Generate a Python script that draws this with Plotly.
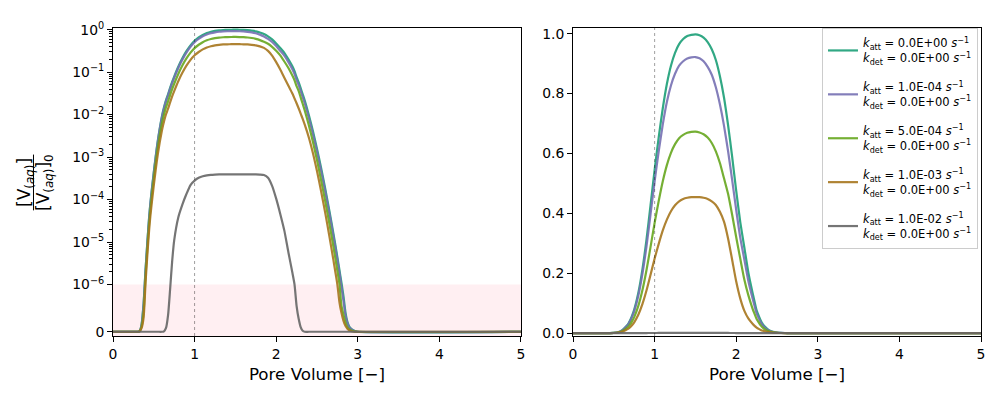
import math
import plotly.graph_objects as go

# ---------------- data ----------------
pore_volume = [0, 0.30, 0.325, 0.35, 0.375, 0.40, 0.45, 0.50, 0.55, 0.60, 0.625, 0.65, 0.675, 0.70,
               0.725, 0.75, 0.80, 0.85, 0.90, 0.95, 1.00, 1.05, 1.10, 1.15, 1.20, 1.25, 1.30, 1.35,
               1.40, 1.45, 1.50, 1.55, 1.60, 1.65, 1.70, 1.75, 1.80, 1.85, 1.90, 1.95, 2.00, 2.05,
               2.10, 2.15, 2.20, 2.225, 2.25, 2.275, 2.30, 2.325, 2.35, 2.40, 2.45, 2.50, 2.55,
               2.60, 2.65, 2.70, 2.75, 2.775, 2.80, 2.825, 2.85, 2.875, 2.90, 2.95, 3.00, 5.00]

conc_katt_0 = [0, 0, 1e-8, 1.5e-7, 6e-7, 2.4e-6, 5.6e-5, 4.4e-4, 2.5e-3, 9.2e-3, 0.0148, 0.022, 0.030, 0.0426,
               0.059, 0.0787, 0.134, 0.212, 0.311, 0.427, 0.545, 0.654, 0.751, 0.832, 0.893, 0.936, 0.965, 0.982,
               0.992, 0.996, 0.998, 0.995, 0.987, 0.972, 0.948, 0.912, 0.858, 0.787, 0.695, 0.589, 0.475, 0.37,
               0.285, 0.20, 0.135, 0.105, 0.076, 0.058, 0.042, 0.030, 0.0215, 9.8e-3, 4.1e-3, 1.57e-3, 5.6e-4,
               1.85e-4, 5.7e-5, 1.65e-5, 4.4e-6, 2.2e-6, 1.1e-6, 7.5e-7, 4e-7, 2e-7, 1e-7, 2.5e-8, 0, 0]

conc_katt_1e4 = [0, 0, 1e-8, 1.4e-7, 5.7e-7, 2.3e-6, 5.3e-5, 4.2e-4, 2.37e-3, 8.7e-3, 0.0140, 0.0207, 0.0282, 0.040,
                 0.0552, 0.0735, 0.125, 0.197, 0.289, 0.397, 0.507, 0.607, 0.697, 0.772, 0.827, 0.866, 0.893, 0.908,
                 0.917, 0.921, 0.922, 0.918, 0.908, 0.889, 0.863, 0.821, 0.764, 0.693, 0.608, 0.512, 0.411, 0.318,
                 0.245, 0.172, 0.116, 0.0903, 0.0654, 0.0499, 0.0361, 0.0258, 0.0185, 8.4e-3, 3.5e-3, 1.35e-3, 4.8e-4,
                 1.59e-4, 4.9e-5, 1.42e-5, 3.8e-6, 1.9e-6, 9.5e-7, 6.5e-7, 3.4e-7, 1.7e-7, 8.5e-8, 2e-8, 0, 0]

conc_katt_5e4 = [0, 0, 7e-9, 1.05e-7, 4.2e-7, 1.7e-6, 3.9e-5, 3.1e-4, 1.73e-3, 6.3e-3, 0.0101, 0.0150, 0.0204, 0.0289,
                 0.040, 0.0533, 0.0906, 0.143, 0.210, 0.288, 0.368, 0.441, 0.507, 0.561, 0.602, 0.631, 0.651, 0.662,
                 0.669, 0.672, 0.673, 0.670, 0.664, 0.653, 0.635, 0.607, 0.568, 0.517, 0.465, 0.395, 0.320, 0.248,
                 0.178, 0.125, 0.082, 0.064, 0.047, 0.036, 0.0255, 0.0180, 0.0126, 5.6e-3, 2.3e-3, 8.5e-4, 2.9e-4,
                 9.4e-5, 2.85e-5, 8.1e-6, 2.1e-6, 1.05e-6, 5.5e-7, 3.6e-7, 1.9e-7, 9e-8, 4.5e-8, 1e-8, 0, 0]

conc_katt_1e3 = [0, 0, 5e-9, 7.5e-8, 3e-7, 1.2e-6, 2.8e-5, 2.15e-4, 1.2e-3, 4.3e-3, 6.9e-3, 0.0102, 0.0138, 0.0195,
                 0.0270, 0.0359, 0.0611, 0.0967, 0.142, 0.195, 0.249, 0.298, 0.343, 0.379, 0.407, 0.427, 0.440, 0.448,
                 0.452, 0.454, 0.454, 0.454, 0.452, 0.448, 0.440, 0.428, 0.405, 0.372, 0.316, 0.245, 0.172, 0.115,
                 0.074, 0.048, 0.031, 0.024, 0.0185, 0.0141, 0.0106, 0.0079, 0.0058, 2.9e-3, 1.25e-3, 4.7e-4, 1.6e-4,
                 5.0e-5, 1.45e-5, 3.9e-6, 1.0e-6, 6.3e-7, 4.0e-7, 2.3e-7, 1.2e-7, 6e-8, 2.5e-8, 0, 0, 0]

conc_katt_1e2 = [0, 0, 0, 0, 0, 0, 0, 0, 0, 0, 1e-8, 8e-8, 3.5e-7, 9e-7,
                 3.5e-6, 1.1e-5, 3.8e-5, 7.6e-5, 1.35e-4, 2.2e-4, 2.8e-4, 3.25e-4, 3.55e-4, 3.72e-4, 3.82e-4, 3.87e-4, 3.9e-4, 3.9e-4,
                 3.9e-4, 3.9e-4, 3.9e-4, 3.9e-4, 3.9e-4, 3.9e-4, 3.9e-4, 3.9e-4, 3.88e-4, 3.78e-4, 3.25e-4, 2.1e-4, 1.05e-4, 4.6e-5,
                 1.86e-5, 5.7e-6, 1.84e-6, 1.0e-6, 5.5e-7, 2.8e-7, 1e-7, 2e-8, 0, 0, 0, 0, 0,
                 0, 0, 0, 0, 0, 0, 0, 0, 0, 0, 0, 0, 0]

series = [conc_katt_0, conc_katt_1e4, conc_katt_5e4, conc_katt_1e3, conc_katt_1e2]
k_att_labels = ["0.0E+00", "1.0E-04", "5.0E-04", "1.0E-03", "1.0E-02"]
k_det_labels = ["0.0E+00", "0.0E+00", "0.0E+00", "0.0E+00", "0.0E+00"]
colors = ["rgba(27,158,119,0.9)", "rgba(117,112,179,0.9)", "rgba(102,166,30,0.9)",
          "rgba(166,118,29,0.9)", "rgba(102,102,102,0.9)"]

for s in series:
    assert len(s) == len(pore_volume)

# ---------------- symmetric-log scale (linthresh 1e-6, linscale 1) ----------------
LINTHRESH = 1e-6
LINSCALE = 1.0 / (1.0 - 0.1)


def symlog(v):
    if v <= LINTHRESH:
        return v / LINTHRESH * LINSCALE
    return LINSCALE + math.log10(v / LINTHRESH)


major_vals = [0.0] + [10.0 ** e for e in range(-6, 1)]
major_text = ["0"] + ["10<sup>%s</sup>" % (str(e).replace("-", "\u2212")) for e in range(-6, 1)]
minor_vals = [m * 10.0 ** e for e in range(-6, 0) for m in range(2, 10)]

FONT = "DejaVu Sans"
fig = go.Figure()

for i, s in enumerate(series):
    fig.add_trace(go.Scatter(
        x=pore_volume, y=[symlog(v) for v in s], mode="lines",
        line=dict(color=colors[i], width=2.2, shape="spline", smoothing=0.6), xaxis="x", yaxis="y",
        showlegend=False, hoverinfo="skip"))

for i, s in enumerate(series):
    line1 = "<i>k</i><sub>att</sub> = %s <i>s</i><sup>\u22121</sup>" % k_att_labels[i]
    line2 = "<i>k</i><sub>det</sub> = %s <i>s</i><sup>\u22121</sup>" % k_det_labels[i]
    fig.add_trace(go.Scatter(
        x=pore_volume, y=s, mode="lines", name=line1 + "<br>" + line2,
        legendgroup="g%d" % i,
        line=dict(color=colors[i], width=2.2, shape="spline", smoothing=0.6), xaxis="x2", yaxis="y2"))

axis_common = dict(showline=True, mirror=True, linecolor="black", linewidth=1, ticks="outside",
                   ticklen=5, tickwidth=1, tickcolor="black", showgrid=False, zeroline=False,
                   tickfont=dict(family=FONT, size=13.9, color="black"))

# the page body adds an 8 px offset, so the figure is 992x392 with margins shifted accordingly
fig.update_layout(
    width=992, height=392, margin=dict(l=105, r=19, t=12, b=64),
    paper_bgcolor="white", plot_bgcolor="white",
    font=dict(family=FONT, color="black"),
    xaxis=dict(domain=[0, 0.47], range=[0, 5], tickvals=[0, 1, 2, 3, 4, 5], anchor="y",
               title=dict(text="Pore Volume [\u2212]", font=dict(family=FONT, size=16.7), standoff=7),
               **axis_common),
    yaxis=dict(domain=[0, 1], range=[-0.1, 7.15], anchor="x",
               tickmode="array", tickvals=[symlog(v) for v in major_vals], ticktext=major_text,
               minor=dict(tickmode="array", tickvals=[symlog(v) for v in minor_vals],
                          ticks="outside", ticklen=3, tickwidth=0.8, tickcolor="black"),
               **axis_common),
    xaxis2=dict(domain=[0.53, 1], range=[0, 5], tickvals=[0, 1, 2, 3, 4, 5], anchor="y2",
                title=dict(text="Pore Volume [\u2212]", font=dict(family=FONT, size=16.7), standoff=7),
                **axis_common),
    yaxis2=dict(domain=[0, 1], range=[-0.0098, 1.019], anchor="x2",
                tickvals=[0, 0.2, 0.4, 0.6, 0.8, 1.0], tickformat=".1f", **axis_common),
    legend=dict(x=0.8168, y=1.0, xanchor="left", yanchor="top",
                bgcolor="rgba(255,255,255,0.8)", bordercolor="#cccccc", borderwidth=1,
                font=dict(family=FONT, size=11.5, color="black"), tracegroupgap=11,
                itemwidth=30),
    shapes=[
        dict(type="rect", xref="x domain", yref="y", x0=0, x1=1, y0=-0.1, y1=symlog(1e-6),
             fillcolor="rgba(255,192,203,0.25)", line=dict(width=0), layer="below"),
        dict(type="line", xref="x", yref="y domain", x0=1, x1=1, y0=0, y1=1,
             line=dict(color="rgba(0,0,0,0.55)", width=0.7, dash="dot")),
        dict(type="line", xref="x2", yref="y2 domain", x0=1, x1=1, y0=0, y1=1,
             line=dict(color="rgba(0,0,0,0.55)", width=0.7, dash="dot")),
        dict(type="line", xref="paper", yref="paper", x0=-0.0916, x1=-0.0916, y0=0.408, y1=0.589,
             line=dict(color="black", width=1)),
    ],
    annotations=[
        dict(text="[V<sub>(<i>aq</i>)</sub>]", xref="paper", yref="paper", x=-0.1014, y=0.5,
             textangle=-90, showarrow=False, xanchor="center", yanchor="middle",
             font=dict(family=FONT, size=17, color="black")),
        dict(text="[V<sub>(<i>aq</i>)</sub>]<sub>0</sub>", xref="paper", yref="paper", x=-0.0795, y=0.5,
             textangle=-90, showarrow=False, xanchor="center", yanchor="middle",
             font=dict(family=FONT, size=17, color="black")),
    ],
)

fig.write_html("out.html")
